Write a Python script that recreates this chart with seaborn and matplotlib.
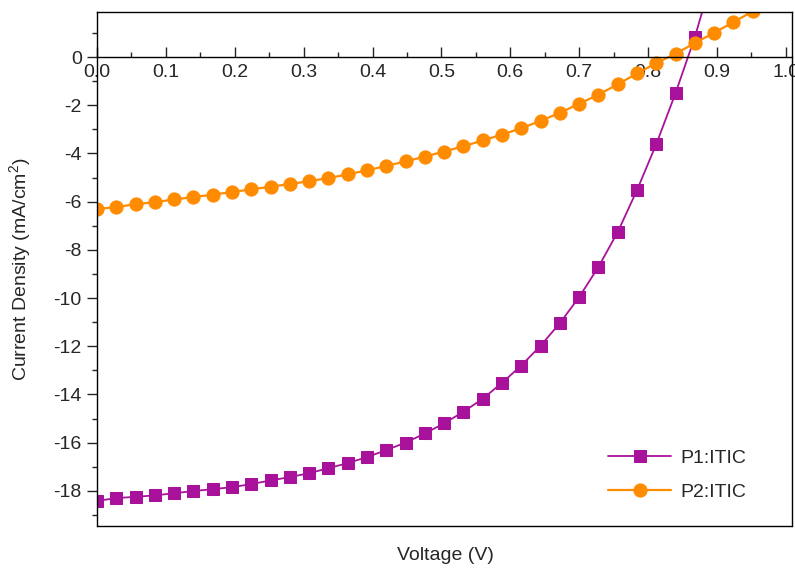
import numpy as np
import pandas as pd
import matplotlib
matplotlib.use('Agg')
import matplotlib.pyplot as plt
import seaborn as sns
from matplotlib.ticker import MultipleLocator

# J-V data
voltage_p1 = [0.000, 0.028, 0.056, 0.084, 0.112, 0.140, 0.168, 0.196,
              0.224, 0.252, 0.280, 0.308, 0.336, 0.364, 0.392, 0.420,
              0.448, 0.476, 0.504, 0.532, 0.560, 0.588, 0.616, 0.644,
              0.672, 0.700, 0.728, 0.756, 0.784, 0.812, 0.840, 0.868, 0.896]
current_p1 = [-18.42, -18.30, -18.25, -18.19, -18.10, -18.01, -17.93, -17.85,
              -17.72, -17.57, -17.43, -17.27, -17.06, -16.85, -16.60, -16.31,
              -16.00, -15.62, -15.20, -14.72, -14.18, -13.52, -12.80, -11.98,
              -11.04, -9.96, -8.71, -7.26, -5.52, -3.61, -1.49, 0.83, 3.60]

voltage_p2 = [0.000, 0.028, 0.056, 0.084, 0.112, 0.140, 0.168, 0.196,
              0.224, 0.252, 0.280, 0.308, 0.336, 0.364, 0.392, 0.420,
              0.448, 0.476, 0.504, 0.532, 0.560, 0.588, 0.616, 0.644,
              0.672, 0.700, 0.728, 0.756, 0.784, 0.812, 0.840, 0.868,
              0.896, 0.924, 0.952]
current_p2 = [-6.31, -6.22, -6.11, -6.02, -5.91, -5.81, -5.71, -5.60,
              -5.49, -5.38, -5.27, -5.15, -5.02, -4.87, -4.70, -4.52,
              -4.33, -4.13, -3.92, -3.70, -3.46, -3.22, -2.95, -2.65,
              -2.31, -1.94, -1.56, -1.13, -0.68, -0.25, 0.14, 0.58,
              1.01, 1.45, 1.90]

purple = '#A8129B'
orange = '#FF8C00'

sns.set_style('ticks')
plt.rcParams['font.family'] = ['Liberation Sans', 'DejaVu Sans']
plt.rcParams['axes.unicode_minus'] = False
plt.rcParams['mathtext.default'] = 'regular'

fig, ax = plt.subplots(figsize=(7.95, 5.72), dpi=100)
fig.subplots_adjust(left=97/795, right=792/795, top=1-12/572, bottom=1-526/572)

sns.lineplot(x=voltage_p1, y=current_p1, ax=ax, color=purple, lw=1.3,
             marker='s', markersize=8.6, markeredgecolor=purple,
             label='P1:ITIC', sort=False)
sns.lineplot(x=voltage_p2, y=current_p2, ax=ax, color=orange, lw=1.6,
             marker='o', markersize=9.5, markeredgecolor=orange,
             label='P2:ITIC', sort=False)

ax.set_xlim(0, 1.009)
ax.set_ylim(-19.46, 1.87)

# x axis runs through J = 0, frame stays closed at the bottom
ax.spines['bottom'].set_position(('data', 0))
ax.plot([0, 1], [0, 0], transform=ax.transAxes, color='black', lw=1.0, clip_on=False)
for s in ['left', 'right', 'top', 'bottom']:
    ax.spines[s].set_linewidth(1.0)
    ax.spines[s].set_color('black')

ax.xaxis.set_major_locator(MultipleLocator(0.1))
ax.xaxis.set_minor_locator(MultipleLocator(0.05))
ax.yaxis.set_major_locator(MultipleLocator(2))
ax.yaxis.set_minor_locator(MultipleLocator(1))
ax.xaxis.set_major_formatter(matplotlib.ticker.FormatStrFormatter('%.1f'))

ax.tick_params(axis='x', which='major', direction='in', length=7, width=1, labelsize=14, pad=5)
ax.tick_params(axis='x', which='minor', direction='in', length=3.5, width=1)
ax.tick_params(axis='y', which='major', direction='out', length=7, width=1, labelsize=14, pad=4)
ax.tick_params(axis='y', which='minor', direction='out', length=3.5, width=1)

ax.set_xlabel('')
ax.set_ylabel('')
fig.text(445/795, 1-556/572, 'Voltage (V)', ha='center', va='center', fontsize=14)
fig.text(20/795, 1-269/572, 'Current Density (mA/cm$^2$)', ha='center', va='center',
         rotation=90, fontsize=14)

ax.legend(loc='lower right', bbox_to_anchor=(1-38/695, 17/514), borderaxespad=0,
          frameon=False, fontsize=14, handlelength=3.2, handletextpad=0.5,
          labelspacing=0.85)

fig.savefig('out.png', dpi=100)
